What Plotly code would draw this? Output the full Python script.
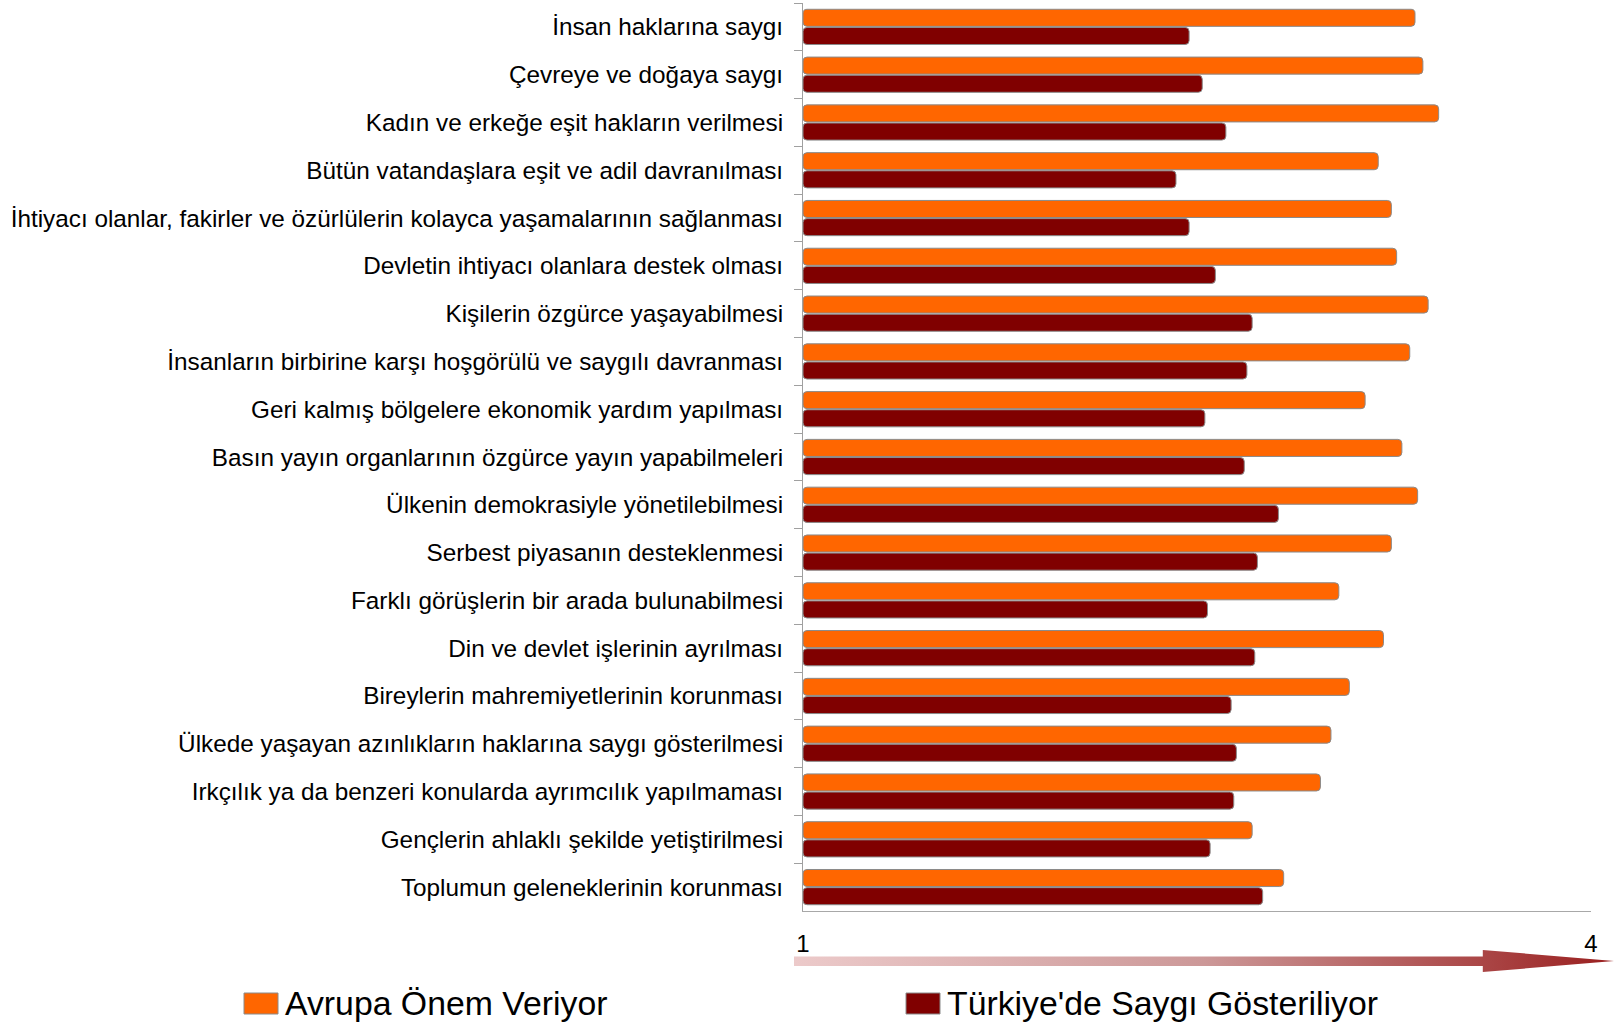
import plotly.graph_objects as go

categories = [
    "İnsan haklarına saygı",
    "Çevreye ve doğaya saygı",
    "Kadın ve erkeğe eşit hakların verilmesi",
    "Bütün vatandaşlara eşit ve adil davranılması",
    "İhtiyacı olanlar, fakirler ve özürlülerin kolayca yaşamalarının sağlanması",
    "Devletin ihtiyacı olanlara destek olması",
    "Kişilerin özgürce yaşayabilmesi",
    "İnsanların birbirine karşı hoşgörülü ve saygılı davranması",
    "Geri kalmış bölgelere ekonomik yardım yapılması",
    "Basın yayın organlarının özgürce yayın yapabilmeleri",
    "Ülkenin demokrasiyle yönetilebilmesi",
    "Serbest piyasanın desteklenmesi",
    "Farklı görüşlerin bir arada bulunabilmesi",
    "Din ve devlet işlerinin ayrılması",
    "Bireylerin mahremiyetlerinin korunması",
    "Ülkede yaşayan azınlıkların haklarına saygı gösterilmesi",
    "Irkçılık ya da benzeri konularda ayrımcılık yapılmaması",
    "Gençlerin ahlaklı şekilde yetiştirilmesi",
    "Toplumun geleneklerinin korunması",
]
avrupa = [3.33, 3.36, 3.42, 3.19, 3.24, 3.26, 3.38, 3.31, 3.14, 3.28,
          3.34, 3.24, 3.04, 3.21, 3.08, 3.01, 2.97, 2.71, 2.83]
turkiye = [2.47, 2.52, 2.61, 2.42, 2.47, 2.57, 2.71, 2.69, 2.53, 2.68,
           2.81, 2.73, 2.54, 2.72, 2.63, 2.65, 2.64, 2.55, 2.75]
series_names = ["Avrupa Önem Veriyor", "Türkiye'de Saygı Gösteriliyor"]
series_colors = ["#FF6600", "#800000"]
x_ticks = [1, 4]

W, H = 1614, 1024
ML, MR, MT, MB = 794, 0, 3, 0
PW, PH = W - ML - MR, H - MT - MB


def px(x):
    return (x - ML) / PW


def py(y):
    return (H - MB - y) / PH


FONT = "Liberation Sans"

fig = go.Figure()
for name, vals, col in zip(series_names, [avrupa, turkiye], series_colors):
    fig.add_trace(go.Bar(
        y=categories, x=[v - 1 for v in vals], base=1, orientation="h",
        name=name, marker=dict(color=col, line=dict(color="#8a8a8a", width=1),
                               cornerradius=4),
        showlegend=False, hoverinfo="skip",
    ))

# gradient arrow (decoration) on a hidden overlay axis
fig.add_trace(go.Scatter(
    x=[0, 0.84, 0.84, 1, 0.84, 0.84, 0, 0],
    y=[0.27, 0.27, 0, 0.5, 1, 0.70, 0.70, 0.27],
    fill="toself", mode="lines", line=dict(width=0),
    fillgradient=dict(type="horizontal",
                      colorscale=[[0, "#eccaca"], [0.5, "#cc9898"], [1, "#9a1f1f"]]),
    xaxis="x2", yaxis="y2", showlegend=False, hoverinfo="skip",
))

fig.update_layout(
    template="none",
    width=W, height=H, autosize=False,
    margin=dict(l=ML, r=MR, t=MT, b=MB, pad=0, autoexpand=False),
    paper_bgcolor="white", plot_bgcolor="white",
    barmode="group", bargap=0.24, bargroupgap=0.06,
    font=dict(family=FONT, color="black"),
    showlegend=False,
    xaxis=dict(domain=[px(803), px(1591)], range=[1, 4], tickvals=x_ticks,
               ticktext=[str(t) for t in x_ticks], showgrid=False, zeroline=False,
               showline=True, linecolor="#a8a8a8", linewidth=1, ticks="",
               automargin=False,
               ticklabelstandoff=11, tickfont=dict(size=24, family=FONT)),
    yaxis=dict(domain=[py(911), 1], autorange="reversed", type="category",
               showline=True, linecolor="#a0a0a0", linewidth=1, zeroline=False,
               ticks="outside", tickson="boundaries", ticklen=8, tickcolor="#a0a0a0",
               showgrid=False, ticklabelstandoff=14, automargin=False,
               tickfont=dict(size=24.3, family=FONT)),
    xaxis2=dict(domain=[0, 1], range=[0, 1], visible=False, anchor="y2",
                fixedrange=True, automargin=False),
    yaxis2=dict(domain=[py(972), py(950)], range=[0, 1], visible=False,
                anchor="x2", fixedrange=True, automargin=False),
)

# legend drawn manually
legend_items = [(244, 278, 283), (906, 940, 945)]
for (x0, x1, tx), name, col in zip(legend_items, series_names, series_colors):
    fig.add_shape(type="rect", xref="paper", yref="paper",
                  x0=px(x0), x1=px(x1), y0=py(1014), y1=py(993),
                  fillcolor=col, line=dict(color="#8a8a8a", width=1))
    fig.add_annotation(xref="paper", yref="paper", x=px(tx), y=py(1003),
                       xanchor="left", yanchor="middle", text=name,
                       showarrow=False, font=dict(size=33.8, family=FONT, color="black"))

fig.write_html("out.html", config={"displayModeBar": False},
               post_script="document.body.style.margin='0';document.body.style.overflow='hidden';")
